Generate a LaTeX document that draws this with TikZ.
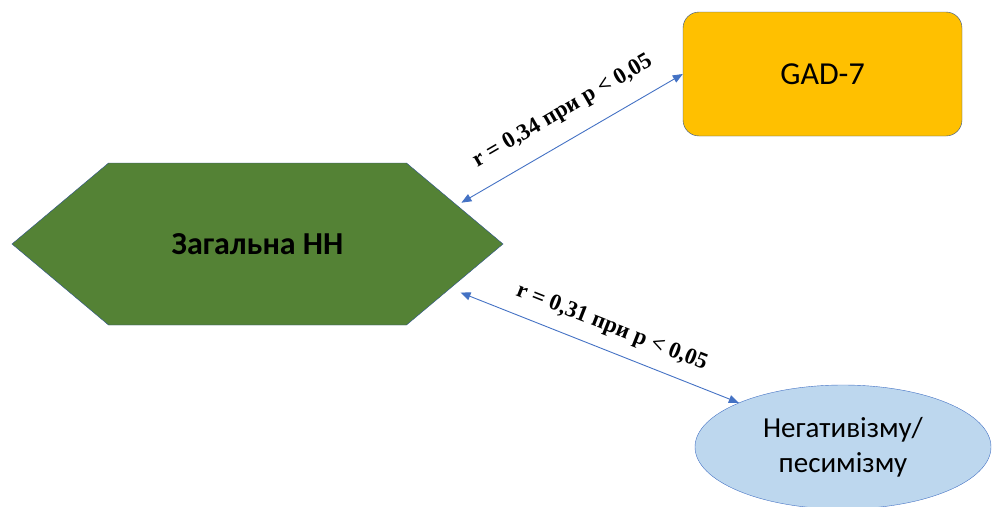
\documentclass[tikz,border=0pt]{standalone}
\usepackage{fontspec}
\setmainfont{Liberation Serif}
\newfontfamily\calibri{Carlito}
\usetikzlibrary{shapes.symbols, shapes.geometric, arrows.meta}
\definecolor{hexgreen}{RGB}{84, 130, 53}
\definecolor{shapeline}{RGB}{47, 82, 143}
\definecolor{gadyellow}{RGB}{255, 192, 0}
\definecolor{ellblue}{RGB}{189, 215, 238}
\definecolor{arrowblue}{RGB}{68, 114, 196}

\begin{document}
\begin{tikzpicture}[x=1pt, y=1pt,
  corr/.style={draw=arrowblue, line width=0.9pt, {Triangle[length=10pt, width=8pt]}-{Triangle[length=10pt, width=8pt]}},
  corrlabel/.style={sloped, font=\fontsize{23}{27}\selectfont\bfseries}]
  \useasboundingbox (0,0) rectangle (992,-506);
  \node[signal, signal to=west and east, signal pointer angle=80, minimum width=491pt, minimum height=162pt, draw=shapeline, fill=hexgreen, font=\calibri\fontsize{32}{38}\selectfont\bfseries] (hex) at (257.5,-244) {Загальна НН};
  \node[draw=shapeline, fill=gadyellow, rounded corners=16pt, minimum width=279pt, minimum height=124pt, font=\calibri\fontsize{32}{38}\selectfont] (gad) at (822.5,-74) {GAD-7};
  \node[ellipse, draw=arrowblue, fill=ellblue, minimum width=296pt, minimum height=124pt, align=center, font=\calibri\fontsize{29}{35}\selectfont] (neg) at (843,-447) {Негативізму/\\песимізму};

  \draw[corr, shorten <=5pt] (hex.11) -- node[corrlabel, above=14pt, pos=0.53] {r = 0,34 при p < 0,05} (gad.west);
  \draw[corr, shorten <=11pt] (hex.-13) -- node[corrlabel, above=9pt, pos=0.53] {r = 0,31 при p < 0,05} (neg.157);
\end{tikzpicture}
\end{document}
